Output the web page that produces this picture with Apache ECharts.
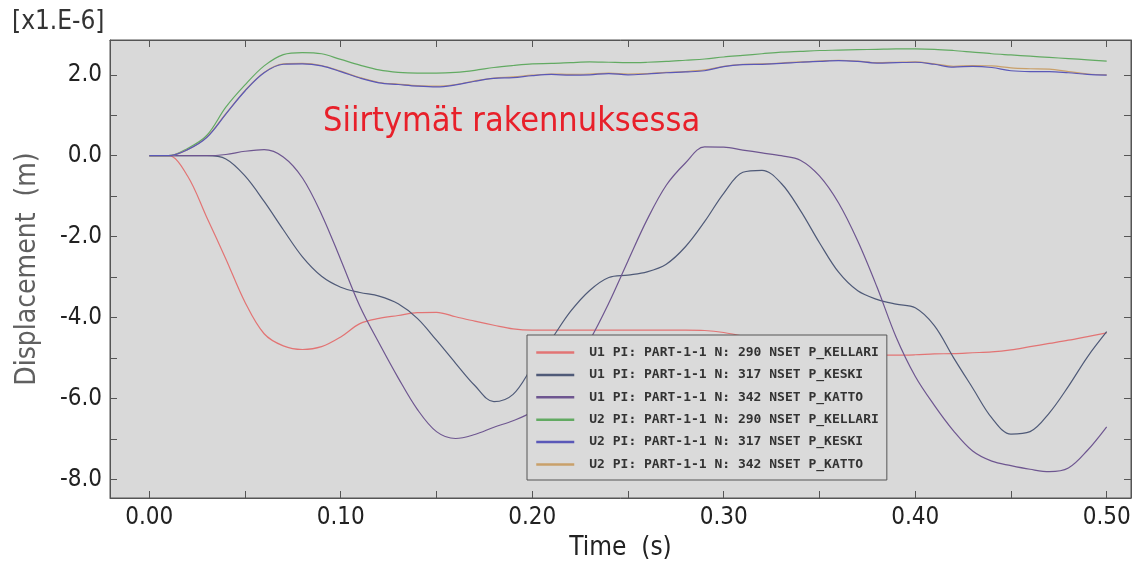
<!DOCTYPE html>
<html>
<head>
<meta charset="utf-8">
<script src="https://cdn.jsdelivr.net/npm/echarts@6/dist/echarts.min.js"></script>
<style>
  html, body { margin: 0; padding: 0; background: #fff; }
  #chart { width: 1137px; height: 563px; }
</style>
</head>
<body>
<div id="chart"></div>
<script>
// time (s)
var times = [0.00, 0.01, 0.02, 0.03, 0.04, 0.05, 0.06, 0.07, 0.08, 0.09,
  0.10, 0.11, 0.12, 0.13, 0.14, 0.15, 0.16, 0.17, 0.18, 0.19,
  0.20, 0.21, 0.22, 0.23, 0.24, 0.25, 0.26, 0.27, 0.28, 0.29,
  0.30, 0.31, 0.32, 0.33, 0.34, 0.35, 0.36, 0.37, 0.38, 0.39,
  0.40, 0.41, 0.42, 0.43, 0.44, 0.45, 0.46, 0.47, 0.48, 0.49, 0.50];

// displacement [x1.E-6 m]
var u1Kellari = [0, 0, -0.50, -1.52, -2.55, -3.62, -4.40, -4.70, -4.79, -4.72,
  -4.48, -4.15, -4.02, -3.95, -3.88, -3.87, -3.98, -4.09, -4.19, -4.28,
  -4.31, -4.31, -4.31, -4.31, -4.31, -4.31, -4.31, -4.31, -4.31, -4.32,
  -4.37, -4.46, -4.55, -4.67, -4.78, -4.86, -4.90, -4.92, -4.93, -4.93,
  -4.92, -4.90, -4.89, -4.87, -4.85, -4.80, -4.72, -4.64, -4.56, -4.47, -4.38];
var u1Keski = [0, 0, 0, 0, -0.08, -0.50, -1.13, -1.83, -2.50, -2.98,
  -3.25, -3.38, -3.47, -3.66, -4.02, -4.56, -5.13, -5.68, -6.08, -5.90,
  -5.22, -4.54, -3.85, -3.33, -3.01, -2.95, -2.87, -2.68, -2.25, -1.63,
  -0.93, -0.41, -0.36, -0.68, -1.35, -2.15, -2.88, -3.34, -3.55, -3.67,
  -3.76, -4.20, -4.99, -5.74, -6.48, -6.88, -6.82, -6.36, -5.70, -4.97, -4.35];
var u1Katto = [0, 0, 0, 0, 0.03, 0.11, 0.15, -0.03, -0.55, -1.45,
  -2.57, -3.72, -4.63, -5.49, -6.27, -6.82, -6.99, -6.89, -6.71, -6.55,
  -6.33, -5.93, -5.28, -4.56, -3.64, -2.60, -1.58, -0.73, -0.18, 0.22,
  0.21, 0.14, 0.07, 0.00, -0.11, -0.50, -1.17, -2.11, -3.24, -4.48,
  -5.45, -6.17, -6.80, -7.30, -7.55, -7.66, -7.75, -7.81, -7.72, -7.28, -6.70];
var u2Kellari = [0, 0, 0.18, 0.50, 1.20, 1.75, 2.22, 2.50, 2.55, 2.52,
  2.38, 2.24, 2.12, 2.06, 2.04, 2.04, 2.06, 2.11, 2.18, 2.23,
  2.27, 2.28, 2.30, 2.32, 2.31, 2.30, 2.31, 2.33, 2.36, 2.39,
  2.44, 2.48, 2.52, 2.56, 2.58, 2.60, 2.61, 2.62, 2.63, 2.64,
  2.64, 2.63, 2.60, 2.56, 2.52, 2.49, 2.46, 2.43, 2.40, 2.37, 2.34];
var u2Keski = [0, 0, 0.15, 0.45, 1.03, 1.60, 2.05, 2.26, 2.27, 2.22,
  2.08, 1.92, 1.80, 1.76, 1.72, 1.70, 1.75, 1.84, 1.91, 1.93,
  1.98, 2.01, 1.99, 2.00, 2.03, 2.00, 2.02, 2.05, 2.07, 2.10,
  2.20, 2.25, 2.26, 2.28, 2.31, 2.33, 2.35, 2.33, 2.29, 2.30,
  2.31, 2.26, 2.19, 2.21, 2.18, 2.10, 2.08, 2.08, 2.05, 2.01, 1.99];
var u2Katto = [0, 0, 0.15, 0.46, 1.04, 1.61, 2.06, 2.27, 2.28, 2.23,
  2.09, 1.93, 1.81, 1.77, 1.73, 1.72, 1.76, 1.85, 1.92, 1.95,
  1.99, 2.02, 2.01, 2.02, 2.04, 2.02, 2.03, 2.06, 2.08, 2.12,
  2.21, 2.26, 2.27, 2.29, 2.32, 2.34, 2.36, 2.34, 2.30, 2.31,
  2.32, 2.27, 2.21, 2.23, 2.22, 2.17, 2.15, 2.14, 2.08, 2.02, 2.00];

var seriesNames = [
  'U1 PI: PART-1-1 N: 290 NSET P_KELLARI',
  'U1 PI: PART-1-1 N: 317 NSET P_KESKI',
  'U1 PI: PART-1-1 N: 342 NSET P_KATTO',
  'U2 PI: PART-1-1 N: 290 NSET P_KELLARI',
  'U2 PI: PART-1-1 N: 317 NSET P_KESKI',
  'U2 PI: PART-1-1 N: 342 NSET P_KATTO'
];
var seriesValues = [u1Kellari, u1Keski, u1Katto, u2Kellari, u2Keski, u2Katto];
var seriesColors = ['#e27474', '#4f5a78', '#6e5690', '#62aa62', '#5a58b8', '#c9a06a'];
var seriesZ = [2, 2, 2, 2, 4, 3];

// tick labels
var xLabelValues = [0, 0.1, 0.2, 0.3, 0.4, 0.5];
var xTickValues = [0, 0.05, 0.1, 0.15, 0.2, 0.25, 0.3, 0.35, 0.4, 0.45, 0.5];
var yLabelValues = [-8, -6, -4, -2, 0, 2];
var yTickValues = [-8, -7, -6, -5, -4, -3, -2, -1, 0, 1, 2];

var FONT = "'DejaVu Sans Condensed', 'DejaVu Sans', sans-serif";

var chart = echarts.init(document.getElementById('chart'), null, { renderer: 'canvas' });

function xAxisCfg(pos, show) {
  return {
    type: 'value',
    position: pos,
    min: -0.0205,
    max: 0.5127,
    axisLine: { show: true, onZero: false, lineStyle: { color: '#555', width: 1 } },
    axisTick: { show: true, inside: true, length: 7, customValues: xTickValues, lineStyle: { color: '#555' } },
    axisLabel: {
      show: show,
      customValues: xLabelValues,
      margin: 8,
      fontFamily: FONT,
      fontSize: 24,
      color: '#222',
      formatter: function (v) { return v.toFixed(2); }
    },
    splitLine: { show: false }
  };
}
function yAxisCfg(pos, show) {
  return {
    type: 'value',
    position: pos,
    min: -8.46,
    max: 2.86,
    axisLine: { show: true, onZero: false, lineStyle: { color: '#555', width: 1 } },
    axisTick: { show: true, inside: true, length: 7, customValues: yTickValues, lineStyle: { color: '#555' } },
    axisLabel: {
      show: show,
      customValues: yLabelValues,
      margin: 8,
      fontFamily: FONT,
      fontSize: 24,
      color: '#222',
      formatter: function (v) { return v.toFixed(1); }
    },
    splitLine: { show: false }
  };
}

var xBottom = xAxisCfg('bottom', true);
xBottom.name = 'Time  (s)';
xBottom.nameLocation = 'middle';
xBottom.nameGap = 37;
xBottom.nameTextStyle = { fontFamily: FONT, fontSize: 26, color: '#222' };

var yLeft = yAxisCfg('left', true);
yLeft.name = 'Displacement  (m)';
yLeft.nameLocation = 'middle';
yLeft.nameRotate = 90;
yLeft.nameGap = 68;
yLeft.nameTextStyle = { fontFamily: FONT, fontSize: 28, color: '#606060' };

var series = seriesNames.map(function (name, k) {
  return {
    name: name,
    type: 'line',
    xAxisIndex: 0,
    yAxisIndex: 0,
    symbol: 'none',
    smooth: 0.35,
    silent: true,
    z: seriesZ[k],
    lineStyle: { color: seriesColors[k], width: 1.2 },
    itemStyle: { color: seriesColors[k] },
    data: times.map(function (t, i) { return [t, seriesValues[k][i]]; })
  };
});

var option = {
  animation: false,
  backgroundColor: '#fff',
  grid: {
    left: 110, right: 6, top: 40, bottom: 65,
    outerBoundsMode: 'none',
    containLabel: false,
    show: true, backgroundColor: '#d9d9d9', borderColor: '#555', borderWidth: 1
  },
  title: {
    text: 'Siirtymät rakennuksessa',
    left: 318, top: 100,
    textStyle: { fontFamily: FONT, fontSize: 34, fontWeight: 'normal', color: '#e8202a' }
  },
  legend: {
    orient: 'vertical',
    left: 527, top: 335,
    padding: [11, 8, 9, 8],
    itemWidth: 38, itemHeight: 14, itemGap: 9.4,
    backgroundColor: '#dadada',
    borderColor: '#555', borderWidth: 1, borderRadius: 0,
    itemStyle: { opacity: 0 },
    lineStyle: { width: 2.5 },
    textStyle: { fontFamily: "'DejaVu Sans Mono', monospace", fontSize: 13, fontWeight: 'bold', color: '#333', padding: [0, 0, 0, 10] },
    data: seriesNames
  },
  graphic: [{
    type: 'text',
    left: 12, top: 9,
    style: { text: '[x1.E-6]', fontFamily: FONT, fontSize: 26, fill: '#333' }
  }],
  xAxis: [xBottom, xAxisCfg('top', false)],
  yAxis: [yLeft, yAxisCfg('right', false)],
  series: series
};

chart.setOption(option);
</script>
</body>
</html>
